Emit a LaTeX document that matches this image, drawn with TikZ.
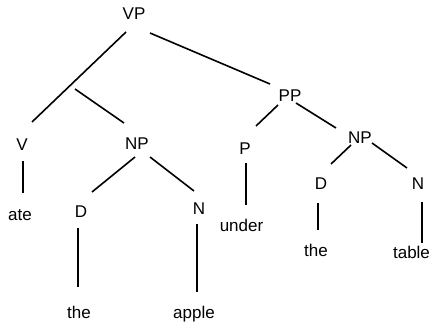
\documentclass[tikz,border=0pt]{standalone}
\usepackage{fontspec}
\setmainfont{Liberation Sans}
\begin{document}
\begin{tikzpicture}[x=1pt,y=-1pt,
  lbl/.style={anchor=base,inner sep=0pt,font=\fontsize{17}{20}\selectfont},
  edge/.style={line width=1.6pt}]
\useasboundingbox (0,0) rectangle (430,327);
% labels
\node[lbl] (vp) at (134,19) {VP};
\node[lbl] (v) at (22,150) {V};
\node[lbl] (npl) at (137,149) {NP};
\node[lbl] (pp) at (290,101) {PP};
\node[lbl] (p) at (245,154.5) {P};
\node[lbl] (npr) at (360,143) {NP};
\node[lbl] (dl) at (81,217) {D};
\node[lbl] (nl) at (199,214) {N};
\node[lbl] (ate) at (20,220) {ate};
\node[lbl] (dr) at (321,189) {D};
\node[lbl] (nr) at (418,189) {N};
\node[lbl] (under) at (241.5,231.5) {under};
\node[lbl] (ther) at (316,256.5) {the};
\node[lbl] (table) at (411.5,258) {table};
\node[lbl] (thel) at (79,318) {the};
\node[lbl] (apple) at (194,318) {apple};
% connector end points
\coordinate (vp-a) at (126,32);   \coordinate (v-a) at (32,122);
\coordinate (mid) at (75,89);     \coordinate (npl-a) at (124,123);
\coordinate (vp-b) at (150,33);   \coordinate (pp-a) at (270,84);
\coordinate (pp-b) at (278,105);  \coordinate (p-a) at (256,126);
\coordinate (pp-c) at (296,103);  \coordinate (npr-a) at (336,128);
\coordinate (npl-b) at (135,157); \coordinate (dl-a) at (92,192);
\coordinate (npl-c) at (150,157); \coordinate (nl-a) at (194,191);
\coordinate (v-b) at (23,161);    \coordinate (ate-a) at (23,193);
\coordinate (dl-b) at (78,228);   \coordinate (thel-a) at (78,287);
\coordinate (nl-b) at (197,224);  \coordinate (apple-a) at (197,292);
\coordinate (p-b) at (246,163);   \coordinate (under-a) at (246,205);
\coordinate (npr-b) at (351,145); \coordinate (dr-a) at (331,164);
\coordinate (npr-c) at (372,143); \coordinate (nr-a) at (407,168);
\coordinate (dr-b) at (318,203);  \coordinate (ther-a) at (318,230);
\coordinate (nr-b) at (422,202);  \coordinate (table-a) at (422,243);
% connectors
\draw[edge] (vp-a) -- (v-a);
\draw[edge] (mid) -- (npl-a);
\draw[edge] (vp-b) -- (pp-a);
\draw[edge] (pp-b) -- (p-a);
\draw[edge] (pp-c) -- (npr-a);
\draw[edge] (npl-b) -- (dl-a);
\draw[edge] (npl-c) -- (nl-a);
\draw[edge] (v-b) -- (ate-a);
\draw[edge] (dl-b) -- (thel-a);
\draw[edge] (nl-b) -- (apple-a);
\draw[edge] (p-b) -- (under-a);
\draw[edge] (npr-b) -- (dr-a);
\draw[edge] (npr-c) -- (nr-a);
\draw[edge] (dr-b) -- (ther-a);
\draw[edge] (nr-b) -- (table-a);
\end{tikzpicture}
\end{document}
